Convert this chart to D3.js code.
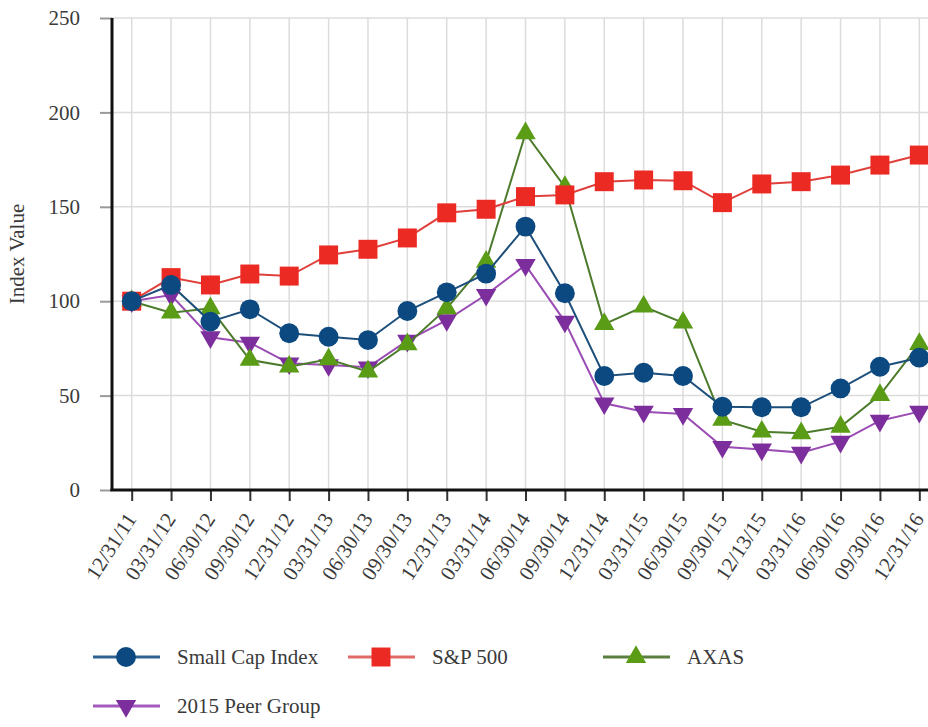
<!DOCTYPE html>
<html>
<head>
<meta charset="utf-8">
<script src="https://cdn.jsdelivr.net/npm/d3@7"></script>
<style>
  body { margin: 0; background: #fff; }
</style>
</head>
<body>
<div id="chart"></div>
<script>
// quarter-end labels
const dates = ['12/31/11','03/31/12','06/30/12','09/30/12','12/31/12','03/31/13','06/30/13',
  '09/30/13','12/31/13','03/31/14','06/30/14','09/30/14','12/31/14','03/31/15','06/30/15',
  '09/30/15','12/13/15','03/31/16','06/30/16','09/30/16','12/31/16'];

const smallCap  = [100, 108.6, 89.2, 95.7, 83.0, 81.2, 79.4, 94.8, 104.7, 114.6, 139.5, 104.2, 60.4, 62.1, 60.4, 44.1, 43.8, 43.8, 53.8, 65.3, 70.1];
const sp500     = [100, 112.5, 108.6, 114.4, 113.3, 124.5, 127.5, 133.5, 146.8, 148.7, 155.4, 156.3, 163.3, 164.2, 163.8, 152.2, 162.1, 163.3, 166.8, 172.1, 177.4];
const axas      = [100, 93.9, 96.2, 68.9, 65.3, 69.2, 62.7, 77.2, 96.2, 120.9, 188.9, 160.5, 87.9, 97.1, 88.6, 37.1, 30.9, 30.0, 33.5, 50.3, 77.3];
const peerGroup = [100, 103.3, 80.9, 78.0, 67.1, 66.2, 65.0, 79.1, 90.0, 103.4, 119.2, 89.2, 45.9, 41.5, 40.3, 22.9, 21.5, 19.8, 25.6, 36.7, 41.5];

const yTicks = [0, 50, 100, 150, 200, 250];

const series = [
  {name: 'Small Cap Index', values: smallCap, line: '#1d4f7a', fill: '#0b4980', legendLine: '#2e6391', symbol: d3.symbolCircle, size: 310, rot: 0},
  {name: 'S&P 500', values: sp500, line: '#e0403c', fill: '#ec2a24', legendLine: '#e06a68', symbol: d3.symbolSquare, size: 360, rot: 0},
  {name: 'AXAS', values: axas, line: '#4c7b2b', fill: '#5b9c17', legendLine: '#5a7f3e', symbol: d3.symbolTriangle, size: 180, rot: 0},
  {name: '2015 Peer Group', values: peerGroup, line: '#9a4cb4', fill: '#7c2f9c', legendLine: '#a35abd', symbol: d3.symbolTriangle, size: 180, rot: 180}
];

const W = 928, H = 727;
const plotLeft = 112, plotTop = 18, plotBottom = 490;
const FONT = '"Liberation Serif", "Times New Roman", serif';
const TEXT = '#3a3a3a';

const svg = d3.select('#chart').append('svg')
  .attr('width', W).attr('height', H);

const x = d3.scalePoint().domain(dates).range([plotLeft, 939]).padding(0.5);
const y = d3.scaleLinear().domain([0, 250]).range([plotBottom, plotTop]);

// grid
svg.append('g').selectAll('line')
  .data(dates).join('line')
  .attr('x1', d => x(d)).attr('x2', d => x(d))
  .attr('y1', plotTop).attr('y2', plotBottom)
  .attr('stroke', '#dcdcdc').attr('stroke-width', 1.5);

svg.append('g').selectAll('line')
  .data(yTicks).join('line')
  .attr('x1', plotLeft).attr('x2', W)
  .attr('y1', d => y(d)).attr('y2', d => y(d))
  .attr('stroke', '#dcdcdc').attr('stroke-width', 1.5);

// y axis
const yAxis = svg.append('g')
  .attr('transform', `translate(${plotLeft},0)`)
  .call(d3.axisLeft(y).tickValues(yTicks).tickSize(12).tickPadding(20));
yAxis.select('.domain').remove();
yAxis.selectAll('line').attr('stroke', '#9a9a9a').attr('stroke-width', 2);
yAxis.selectAll('text')
  .style('font-family', FONT).style('font-size', '21px').attr('fill', TEXT);

svg.append('line')
  .attr('x1', plotLeft).attr('x2', plotLeft).attr('y1', plotTop).attr('y2', plotBottom + 1)
  .attr('stroke', '#111').attr('stroke-width', 3);

// x axis
const xAxis = svg.append('g')
  .attr('transform', `translate(0,${plotBottom})`)
  .call(d3.axisBottom(x).tickSize(11));
xAxis.select('.domain').remove();
xAxis.selectAll('line').attr('stroke', '#333').attr('stroke-width', 2);
xAxis.selectAll('text')
  .style('font-family', FONT).style('font-size', '21px')
  .attr('fill', TEXT)
  .attr('text-anchor', 'end')
  .attr('x', 0).attr('y', 0).attr('dy', 0)
  .attr('transform', 'translate(5,29) rotate(-57)');

svg.append('line')
  .attr('x1', plotLeft - 1.5).attr('x2', W).attr('y1', plotBottom).attr('y2', plotBottom)
  .attr('stroke', '#111').attr('stroke-width', 3);

// y title
svg.append('text')
  .attr('transform', `translate(24,${(plotTop + plotBottom) / 2}) rotate(-90)`)
  .attr('text-anchor', 'middle')
  .style('font-family', FONT).style('font-size', '21px')
  .attr('fill', TEXT)
  .text('Index Value');

// lines + markers, drawn back to front
const line = d3.line().x((d, i) => x(dates[i])).y(d => y(d));
const order = [3, 2, 1, 0];

order.forEach(k => {
  const s = series[k];
  const g = svg.append('g');
  g.append('path')
    .datum(s.values)
    .attr('d', line)
    .attr('fill', 'none')
    .attr('stroke', s.line)
    .attr('stroke-width', 2);
  g.selectAll('path.m')
    .data(s.values).join('path')
    .attr('class', 'm')
    .attr('d', d3.symbol().type(s.symbol).size(s.size))
    .attr('transform', (d, i) => `translate(${x(dates[i])},${y(d)}) rotate(${s.rot})`)
    .attr('fill', s.fill);
});

// legend
const legendPos = [[93, 657], [348, 657], [603, 657], [93, 706]];
series.forEach((s, i) => {
  const [lx, ly] = legendPos[i];
  const g = svg.append('g').attr('transform', `translate(${lx},${ly})`);
  g.append('line')
    .attr('x1', 0).attr('x2', 67).attr('y1', 0).attr('y2', 0)
    .attr('stroke', s.legendLine).attr('stroke-width', 3);
  g.append('path')
    .attr('d', d3.symbol().type(s.symbol).size(s.size))
    .attr('transform', `translate(33,0) rotate(${s.rot})`)
    .attr('fill', s.fill);
  g.append('text')
    .attr('x', 84).attr('y', 0).attr('dy', '0.35em')
    .style('font-family', FONT).style('font-size', '21px')
    .attr('fill', TEXT)
    .text(s.name);
});
</script>
</body>
</html>
